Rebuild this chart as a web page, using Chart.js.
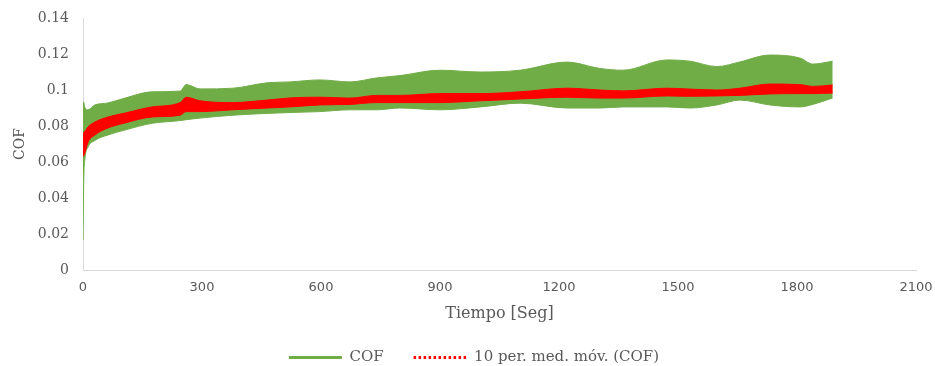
<!DOCTYPE html>
<html>
<head>
<meta charset="utf-8">
<script src="https://cdn.jsdelivr.net/npm/chart.js@4"></script>
<style>
  html, body { margin: 0; padding: 0; background: #fff; }
  #wrap { width: 935px; height: 366px; }
</style>
</head>
<body>
<div id="wrap"><canvas id="cofChart"></canvas></div>
<script>
// values: band edges of the raw COF signal and of the moving average
const timeSec = [0, 2, 5, 12, 30, 63, 106, 174, 245, 260, 295, 378, 464, 522, 597, 673, 740, 799, 900, 1001, 1102, 1220, 1303, 1361, 1472, 1530, 1598, 1656, 1731, 1807, 1840, 1890];
const cofUpper = [0.0935, 0.093, 0.090, 0.089, 0.0917, 0.0928, 0.0955, 0.099, 0.0994, 0.103, 0.1006, 0.101, 0.104, 0.1045, 0.1056, 0.1045, 0.1067, 0.108, 0.111, 0.110, 0.111, 0.1155, 0.112, 0.111, 0.1167, 0.116, 0.113, 0.1156, 0.1194, 0.1178, 0.1144, 0.116];
const cofLower = [0.0167, 0.05, 0.062, 0.068, 0.072, 0.075, 0.0778, 0.0815, 0.083, 0.0835, 0.0844, 0.086, 0.087, 0.0875, 0.088, 0.089, 0.089, 0.090, 0.089, 0.0906, 0.0927, 0.090, 0.090, 0.0906, 0.0906, 0.090, 0.0917, 0.0944, 0.0917, 0.0906, 0.092, 0.0956];
const movAvgUpper = [0.074, 0.0765, 0.077, 0.0794, 0.0822, 0.085, 0.0872, 0.0906, 0.093, 0.096, 0.094, 0.093, 0.0944, 0.0956, 0.096, 0.0955, 0.097, 0.097, 0.098, 0.098, 0.099, 0.101, 0.100, 0.0995, 0.101, 0.1005, 0.100, 0.101, 0.1033, 0.103, 0.102, 0.1028];
const movAvgLower = [0.063, 0.0635, 0.065, 0.0706, 0.075, 0.0789, 0.0817, 0.085, 0.086, 0.088, 0.088, 0.089, 0.090, 0.0906, 0.0917, 0.092, 0.093, 0.093, 0.093, 0.094, 0.095, 0.096, 0.0955, 0.0955, 0.0967, 0.0965, 0.0967, 0.097, 0.0978, 0.098, 0.098, 0.0983];

const xTickLabels = ['0', '300', '600', '900', '1200', '1500', '1800', '2100'];
const yTickLabels = ['0', '0.02', '0.04', '0.06', '0.08', '0.1', '0.12', '0.14'];
const legendNames = ['COF', '10 per. med. móv. (COF)'];

const GREEN = '#70ad47';
const RED = '#ff0000';
const GREY = '#595959';
const AXIS = '#d9d9d9';

const toPoints = arr => arr.map((v, i) => ({ x: timeSec[i], y: v }));

function band(values, color, fill, order) {
  return {
    data: toPoints(values),
    borderColor: color,
    backgroundColor: color,
    borderWidth: 1,
    pointRadius: 0,
    fill: fill,
    order: order,
    cubicInterpolationMode: 'monotone'
  };
}

// legend box: fixed height, then nudged to where the picture has it
const legendFix = {
  id: 'legendFix',
  beforeLayout(chart) {
    const lg = chart.legend;
    if (lg && !lg._patched) {
      const fit = lg.fit.bind(lg);
      lg.fit = function () { fit(); this.height = 48; };
      lg._patched = true;
    }
  },
  afterLayout(chart) {
    const lg = chart.legend;
    lg.left += 16; lg.right += 16;
    lg.top += 2; lg.bottom += 2;
  }
};

const ctx = document.getElementById('cofChart').getContext('2d');
const chart = new Chart(ctx, {
  type: 'line',
  data: {
    datasets: [
      band(cofUpper, GREEN, false, 2),
      band(cofLower, GREEN, '-1', 2),
      band(movAvgUpper, RED, false, 1),
      band(movAvgLower, RED, '-1', 1)
    ]
  },
  options: {
    responsive: true,
    maintainAspectRatio: false,
    animation: false,
    layout: { padding: { top: 18, right: 19, left: 0, bottom: 0 } },
    scales: {
      x: {
        type: 'linear',
        min: 0,
        max: 2100,
        grid: { display: false, drawTicks: false },
        border: { display: true, color: AXIS, width: 1 },
        ticks: {
          stepSize: 300,
          padding: 10,
          color: GREY,
          font: { family: 'DejaVu Sans', size: 13 },
          callback: (v) => xTickLabels[Math.round(v / 300)]
        },
        title: {
          display: true,
          text: 'Tiempo [Seg]',
          color: GREY,
          font: { family: 'DejaVu Serif', size: 16 },
          padding: { top: 0, bottom: -5 }
        },
        afterFit(scale) { scale.height = 48; scale.paddingLeft = 0; scale.paddingRight = 0; }
      },
      y: {
        min: 0,
        max: 0.14,
        grid: { display: false, drawTicks: false },
        border: { display: true, color: AXIS, width: 1 },
        ticks: {
          stepSize: 0.02,
          padding: 14,
          color: GREY,
          font: { family: 'DejaVu Serif', size: 14 },
          callback: (v) => yTickLabels[Math.round(v / 0.02)]
        },
        title: {
          display: true,
          text: 'COF',
          color: GREY,
          font: { family: 'DejaVu Serif', size: 14 },
          padding: { top: 12, bottom: 0 }
        },
        afterFit(scale) { scale.width = 83; scale.paddingTop = 0; scale.paddingBottom = 0; }
      }
    },
    plugins: {
      tooltip: { enabled: false },
      legend: {
        position: 'bottom',
        labels: {
          usePointStyle: true,
          pointStyleWidth: 53,
          padding: 30,
          color: GREY,
          font: { family: 'DejaVu Serif', size: 15 },
          generateLabels: () => [
            { text: legendNames[0], strokeStyle: GREEN, fillStyle: GREEN, lineWidth: 3, pointStyle: 'line', lineDash: [], fontColor: GREY },
            { text: legendNames[1], strokeStyle: RED, fillStyle: RED, lineWidth: 3, pointStyle: 'line', lineDash: [2.5, 2.5], fontColor: GREY }
          ]
        }
      }
    }
  },
  plugins: [legendFix]
});
</script>
</body>
</html>
